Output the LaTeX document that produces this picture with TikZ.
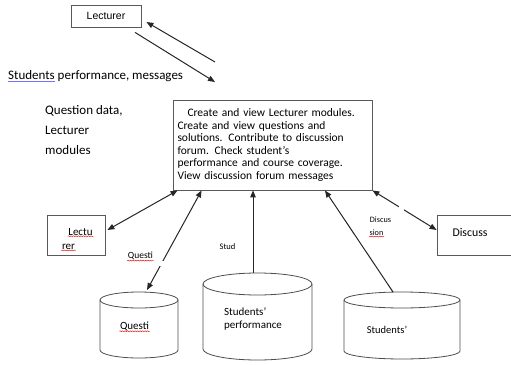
\documentclass[tikz,border=0pt]{standalone}
\usepackage{fontspec}
\setmainfont{Carlito}
\newfontfamily\arialfont{Liberation Sans}
\usetikzlibrary{arrows.meta,decorations.pathmorphing}
% data store: name, centre x, top y, bottom y, x radius, y radius
\newcommand{\datastore}[6]{%
  \draw[store] (#2-#5,#3) -- (#2-#5,#4) arc[start angle=180, end angle=0, x radius=#5, y radius=#6] -- (#2+#5,#3);
  \draw[store] (#2,#3) ellipse[x radius=#5, y radius=#6];
  \coordinate (#1) at (#2,#3-#6);}

\begin{document}
\begin{tikzpicture}[x=1pt,y=-1pt,
    box/.style={draw=black!65, line width=0.8pt, inner sep=0pt},
    store/.style={draw=black!70, line width=0.8pt},
    arr/.style={draw=black!85, line width=1pt, -{Triangle[length=7pt,width=5.5pt]}},
    darr/.style={draw=black!85, line width=1pt, {Triangle[length=7pt,width=5.5pt]}-{Triangle[length=7pt,width=5.5pt]}},
    gap/.style={fill=white, inner sep=2.5pt},
    squig/.style={red!85!black, line width=0.4pt, decorate, decoration={snake, amplitude=0.5pt, segment length=2.5pt}}]
\useasboundingbox (0,0) rectangle (511,364);

%%%%% boxes
\node[box, minimum width=70, minimum height=22, font=\arialfont\fontsize{10.5}{12}\selectfont] (lect) at (106,16) {Lecturer};
\node[box, minimum width=199, minimum height=90, text width=190pt, align=left,
      font=\fontsize{11.5}{12.5}\selectfont] (main) at (272.5,145)
  {\hspace*{10pt}Create and view Lecturer modules.\\
   Create and view questions and\\
   solutions. Contribute to discussion\\
   forum. Check student’s\\
   performance and course coverage.\\
   View discussion forum messages};
\node[box, minimum width=58, minimum height=40] (lecbox) at (76,235) {};
\node[box, minimum width=79, minimum height=40] (disc) at (476.5,235) {};
\node[font=\fontsize{11.8}{14}\selectfont, inner sep=0pt] (disctxt) at (470,232) {Discuss};

%%%%% data stores
\datastore{qdb}{139}{300}{350}{39}{8}
\datastore{spdb}{257.5}{284}{349}{54.5}{11}
\datastore{sdb}{402}{300}{351}{58}{8}

\node[font=\fontsize{11}{13}\selectfont, inner sep=0.5pt] (qtxt) at (134.5,326) {Questi};
\node[font=\fontsize{11}{13}\selectfont, align=left, inner sep=0pt] (sptxt) at (253,319.5) {Students’\\performance};
\node[font=\fontsize{10.5}{13}\selectfont, inner sep=0pt] (stxt) at (387,330) {Students’};

%%%%% labels
\node[anchor=base west, font=\fontsize{13}{15}\selectfont, inner sep=0pt] (spm) at (8,79) {Students performance, messages};
\node[anchor=west, align=left, font=\fontsize{13}{20}\selectfont, inner sep=0pt] (qdl) at (45,130) {Question data,\\Lecturer\\modules};
\node[font=\fontsize{11}{13}\selectfont, inner sep=0.5pt] (lecA) at (80.5,232) {Lectu};
\node[font=\fontsize{11}{13}\selectfont, inner sep=0.5pt] (lecB) at (68.5,247) {rer};
\node[font=\fontsize{9.5}{11}\selectfont, inner sep=0.5pt] (qlbl) at (140.5,256) {Questi};
\node[font=\fontsize{8.5}{10}\selectfont, inner sep=0pt] (slbl) at (227.5,247) {Stud};
\node[font=\fontsize{8.2}{10}\selectfont, inner sep=0pt] (dlA) at (380.5,220) {Discus};
\node[font=\fontsize{8.2}{10}\selectfont, inner sep=0.5pt] (dlB) at (376.5,233) {sion};

%%%%% flows
\coordinate (up) at (215,62);
\coordinate (down) at (215,82);
\draw[arr] (up) -- ([shift={(5pt,-6pt)}]lect.east);
\draw[arr] ([shift={(29pt,-5pt)}]lect.south) -- (down);
\draw[darr] ([shift={(2pt,5pt)}]lecbox.east) -- ([xshift=5pt]main.south west);
\draw[darr] ([shift={(8pt,2pt)}]qdb) -- ([xshift=29pt]main.south west) node[gap, pos=0.27] {};
\draw[arr] ([xshift=-4.5pt]spdb) -- ([xshift=-4.5pt]spdb |- main.south);
\draw[arr] ([xshift=-9pt]sdb) -- ([xshift=52.5pt]main.south);
\draw[darr] (main.south east) -- ([yshift=5pt]disc.west) node[gap, pos=0.46] {};

%%%%% spelling marks
\draw[blue!55, line width=0.6pt] ([yshift=-2.5pt]spm.base west) -- ++(47,0);
\foreach \w in {lecA,lecB,qtxt,qlbl,dlB}
  \draw[squig] (\w.south west) -- (\w.south east);
\end{tikzpicture}
\end{document}
